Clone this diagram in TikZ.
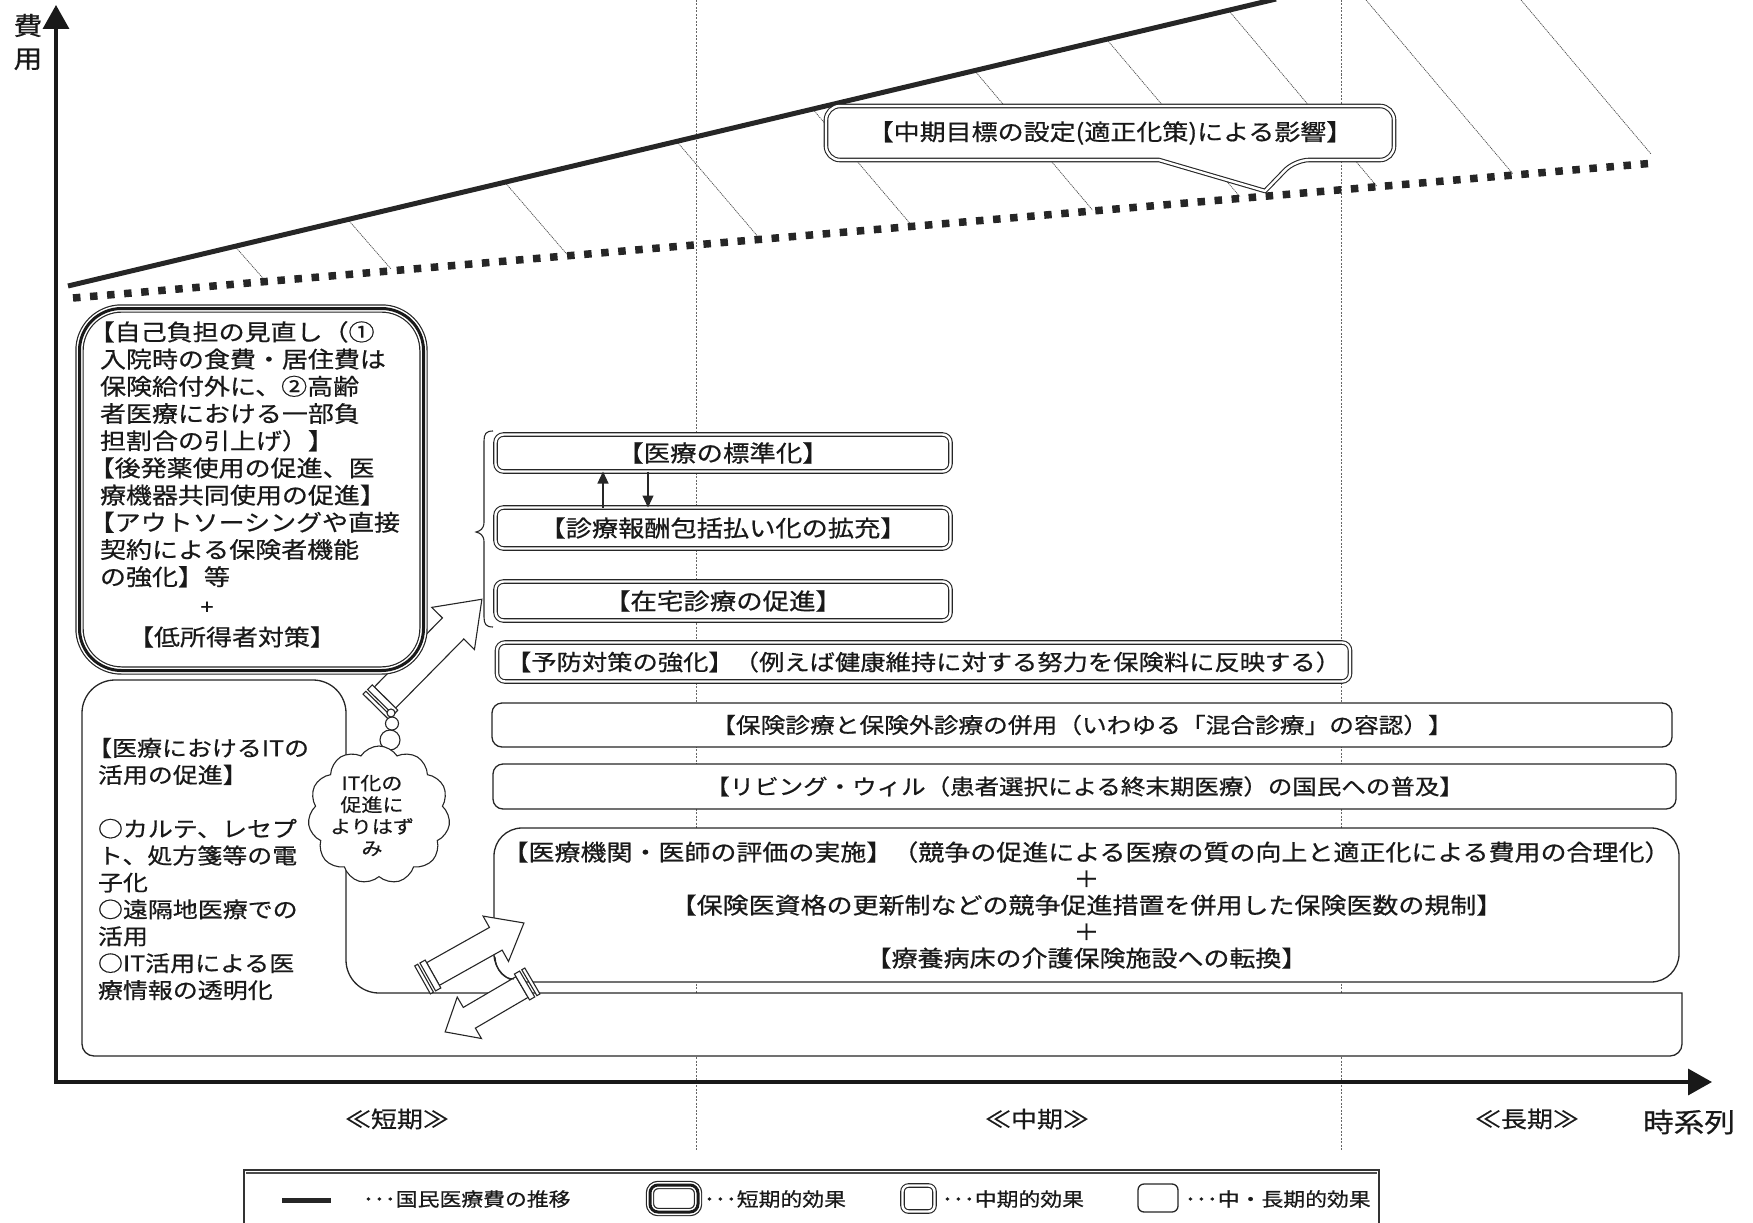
\documentclass[tikz,border=0pt]{standalone}
\usepackage{fontspec}
\setmainfont{Noto Sans CJK JP}[FakeStretch=1.15, FakeBold=0.6]
\usetikzlibrary{arrows.meta,shapes.symbols}
\newcommand{\fsz}[2]{\fontsize{#1}{#2}\selectfont}
\tikzset{
  every node/.style={inner sep=0pt, outer sep=0pt, text=black!90},
  periodline/.style={draw=black!60, line width=0.8pt, dash pattern=on 2pt off 1.5pt},
  hatch/.style={draw=black!70, line width=0.7pt, dash pattern=on 1.2pt off 0.8pt},
  trend/.style={draw=black!85, line width=5pt},
  dotline/.style={draw=black!85, line width=7.5pt, dash pattern=on 7.5pt off 9.6pt},
  axis/.style={draw=black!90, line width=3.5pt, {Triangle[length=24pt,width=26pt]}-{Triangle[length=24pt,width=26pt]}},
  midbox/.style={draw=black!85, fill=white, rounded corners=8pt, line width=1.1pt, double, double distance=2.4pt},
  longbox/.style={draw=black!85, fill=white, rounded corners=10pt, line width=1.3pt},
  shortbox/.style={draw=black!90, line width=3pt, preaction={fill=white, draw=black!85, line width=1.2pt, double, double distance=6pt}},
  callout/.style={draw=black!85, fill=white, line width=1.1pt, double, double distance=2.4pt, line join=round},
  blockarrow/.style={draw=black!85, fill=white, line width=1.1pt, line join=miter},
  thinln/.style={draw=black!85, line width=1.1pt},
  smallarrow/.style={draw=black!85, line width=1.2pt, -{Triangle[length=12pt,width=11pt]}},
}
\begin{document}
\begin{tikzpicture}[x=1pt,y=-1pt]
\path[use as bounding box] (0,0) rectangle (1753,1223);
\clip (0,0) rectangle (1753,1223);

% period separators
\coordinate (vt1) at (696,0); \coordinate (vb1) at (696,1150);
\coordinate (vt2) at (1341,0); \coordinate (vb2) at (1341,1150);
\draw[periodline] (vt1) -- (vb1);
\draw[periodline] (vt2) -- (vb2);

% hatching between the two trend lines
\foreach \xa/\ya/\xb/\yb in {235/246.4/264.6/280, 348/219.6/391/269, 505/182.4/566.7/254, 677/141.7/759.1/238, 813/109.4/911.3/225, 975/71/1092.5/210, 1107/39.7/1240.1/197, 1229/10.8/1376.6/186, 1366/0/1513/174, 1521/0/1651/154}
  \draw[hatch] (\xa,\ya) -- (\xb,\yb);

% trend lines
\draw[trend] (68,286) -- (1276,-1);
\draw[dotline] (73,298) -- (1655,163);

% axes
\draw[axis] (56,5) -- (56,1082) -- (1712,1082);
\node[align=center, font=\fsz{25}{33}] (ylab) at (28,42) {費\\用};

% callout
\draw[callout] (826,133) [rounded corners=14pt] -- (826,106) -- (1394,106) -- (1394,160) -- (1295,160) [sharp corners] -- (1265,191) -- (1159,160) [rounded corners=14pt] -- (826,160) -- cycle;
\node[font=\fsz{22.6}{26}] (callt) at (1110,133) {【中期目標の設定(適正化策)による影響】};

% IT box joined with bottom box
\draw[longbox, rounded corners=0pt] (82,850) [rounded corners=33pt] -- (82,680) -- (346,680) -- (346,993) [sharp corners] -- (1682,993) [rounded corners=12pt] -- (1682,1056) -- (82,1056) [rounded corners=33pt] -- cycle;

% mid-term boxes
\node[midbox, minimum width=455pt, minimum height=37pt, font=\fsz{23}{26}] (b1) at (723,453) {【医療の標準化】};
\node[midbox, minimum width=455pt, minimum height=41pt, font=\fsz{22.8}{26}] (b2) at (723,528) {【診療報酬包括払い化の拡充】};
\node[midbox, minimum width=455pt, minimum height=39pt, font=\fsz{23}{26}] (b3) at (723,601) {【在宅診療の促進】};
\node[midbox, minimum width=853pt, minimum height=39pt, font=\fsz{22}{26}] (b4) at (923.5,662) {【予防対策の強化】（例えば健康維持に対する努力を保険料に反映する）};

% mid/long-term boxes
\node[longbox, minimum width=1180pt, minimum height=44pt, font=\fsz{21.5}{26}] (b5) at (1082,725) {【保険診療と保険外診療の併用（いわゆる「混合診療」の容認）】};
\node[longbox, minimum width=1183pt, minimum height=45pt, font=\fsz{21.3}{26}] (b6) at (1084.5,786.5) {【リビング・ウィル（患者選択による終末期医療）の国民への普及】};
\node[longbox, rounded corners=28pt, minimum width=1185pt, minimum height=154pt, align=center, font=\fsz{22.6}{26.5}] (b7) at (1086.5,905) {【医療機関・医師の評価の実施】（競争の促進による医療の質の向上と適正化による費用の合理化）\\＋\\【保険医資格の更新制などの競争促進措置を併用した保険医数の規制】\\＋\\【療養病床の介護保険施設への転換】};

% arrows between b1 and b2
\draw[smallarrow] (603,0 |- b2.north) -- (603,0 |- b1.south);
\draw[smallarrow] (648,0 |- b1.south) -- (648,0 |- b2.north);

% brace
\draw[thinln] (493,431) .. controls (486,431) and (484,434) .. (484,441) -- (484,522) .. controls (484,529) and (480,531) .. (476,532) .. controls (480,533) and (484,535) .. (484,542) -- (484,617) .. controls (484,624) and (486,627) .. (493,627);

% two-way arrows near bottom
\begin{scope}[shift={(433,974)}, rotate=29.3]
  \draw[blockarrow] (0,-13) -- (72,-13) -- (72,-26) -- (104.3,0) -- (72,26) -- (72,13) -- (0,13) -- cycle;
  \draw[blockarrow] (-6,-16) rectangle (0,16);
  \draw[blockarrow] (-12,-16) rectangle (-8.5,16);
\end{scope}
\begin{scope}[shift={(522,987)}, rotate=210.3]
  \draw[blockarrow] (0,-12) -- (61,-12) -- (61,-24) -- (89,0) -- (61,24) -- (61,12) -- (0,12) -- cycle;
  \draw[blockarrow] (-6,-15) rectangle (0,15);
  \draw[blockarrow] (-12,-15) rectangle (-8.5,15);
\end{scope}
\draw[thinln] (495,957) .. controls (496,971) and (504,979) .. (514,979);

% big arrow from the IT cloud towards the brace
\begin{scope}[shift={(385,697.5)}, rotate=45.4]
  \draw[blockarrow] (0,-15) -- (97,-15) -- (97,-30) -- (138,0) -- (97,30) -- (97,15) -- (0,15) -- cycle;
  \draw[blockarrow] (-6.5,-18) rectangle (0,18);
  \draw[blockarrow] (-13,-18) rectangle (-9,18);
\end{scope}

% short-term box
\node[shortbox, rounded corners=42pt, minimum width=344pt, minimum height=362pt] (sb) at (251.5,489.5) {};
\foreach \t [count=\i from 0] in {\hspace*{-0.5em}【自己負担の見直し（①, 入院時の食費・居住費は, 保険給付外に、②高齢, 者医療における一部負, 担割合の引上げ）】, \hspace*{-0.5em}【後発薬使用の促進、医, 療機器共同使用の促進】, \hspace*{-0.5em}【アウトソーシングや直接, 契約による保険者機能, の強化】等}
  \node[anchor=base west, font=\fsz{22.6}{27}] (sl\i) at (100,340.5+27.2*\i) {\t};
\node[font=\fsz{20}{24}] (splus) at (207,608) {+};
\node[font=\fsz{22.6}{27}] (slow) at (232,637) {【低所得者対策】};

% IT box text
\foreach \t/\yy [count=\i] in {\hspace*{-0.5em}【医療におけるITの/756.2, 活用の促進】/783.1, ○カルテ、レセプ/836.9, ト、処方箋等の電/863.8, 子化/890.7, ○遠隔地医療での/917.6, 活用/944.5, ○IT活用による医/971.4, 療情報の透明化/998.3}
  \node[anchor=base west, font=\fsz{21.7}{27}] (it\i) at (98,\yy) {\t};

% thought bubbles and cloud
\draw[thinln, fill=white] (390,740) circle[radius=10];
\draw[thinln, fill=white] (392,723.5) circle[radius=6.5];
\draw[thinln, fill=white] (391,713) circle[radius=4];
\node[cloud, draw=black!85, fill=white, line width=1.1pt, cloud puffs=11, cloud puff arc=115, aspect=1, minimum width=142pt, minimum height=138pt] (cl) at (379,815) {};
\node[align=center, font=\fsz{18.3}{21.7}] (clt) at (372,815.5) {IT化の\\促進に\\よりはず\\み};

% period labels
\node[font=\fsz{22.6}{27}] (lab1) at (397,1119) {≪短期≫};
\node[font=\fsz{22.6}{27}] (lab2) at (1037,1119) {≪中期≫};
\node[font=\fsz{22.6}{27}] (lab3) at (1527,1119) {≪長期≫};
\node[font=\fsz{26.7}{30}] (xlab) at (1689,1122) {時系列};

% legend
\draw[draw=black!80, line width=1.2pt] (244,1240) -- (244,1170) -- (1379,1170) -- (1379,1240);
\draw[draw=black!70, line width=1.2pt] (246,1173) -- (1377,1173);
\coordinate (lgl1) at (282,1200); \coordinate (lgl2) at (331,1200);
\draw[trend] (lgl1) -- (lgl2);
\node[anchor=west, font=\fsz{19}{22}] (lgt1) at (363,1199) {･･･国民医療費の推移};
\node[shortbox, rounded corners=8pt, minimum width=48pt, minimum height=27pt] (lg1) at (674,1198.5) {};
\node[anchor=west, font=\fsz{19}{22}] (lgt2) at (704,1199) {･･･短期的効果};
\node[midbox, rounded corners=6pt, minimum width=32pt, minimum height=26pt] (lg2) at (918.5,1198.5) {};
\node[anchor=west, font=\fsz{19}{22}] (lgt3) at (942,1199) {･･･中期的効果};
\node[longbox, rounded corners=6pt, minimum width=40pt, minimum height=28pt] (lg3) at (1158,1198) {};
\node[anchor=west, font=\fsz{19}{22}] (lgt4) at (1185,1199) {･･･中・長期的効果};
\end{tikzpicture}
\end{document}
